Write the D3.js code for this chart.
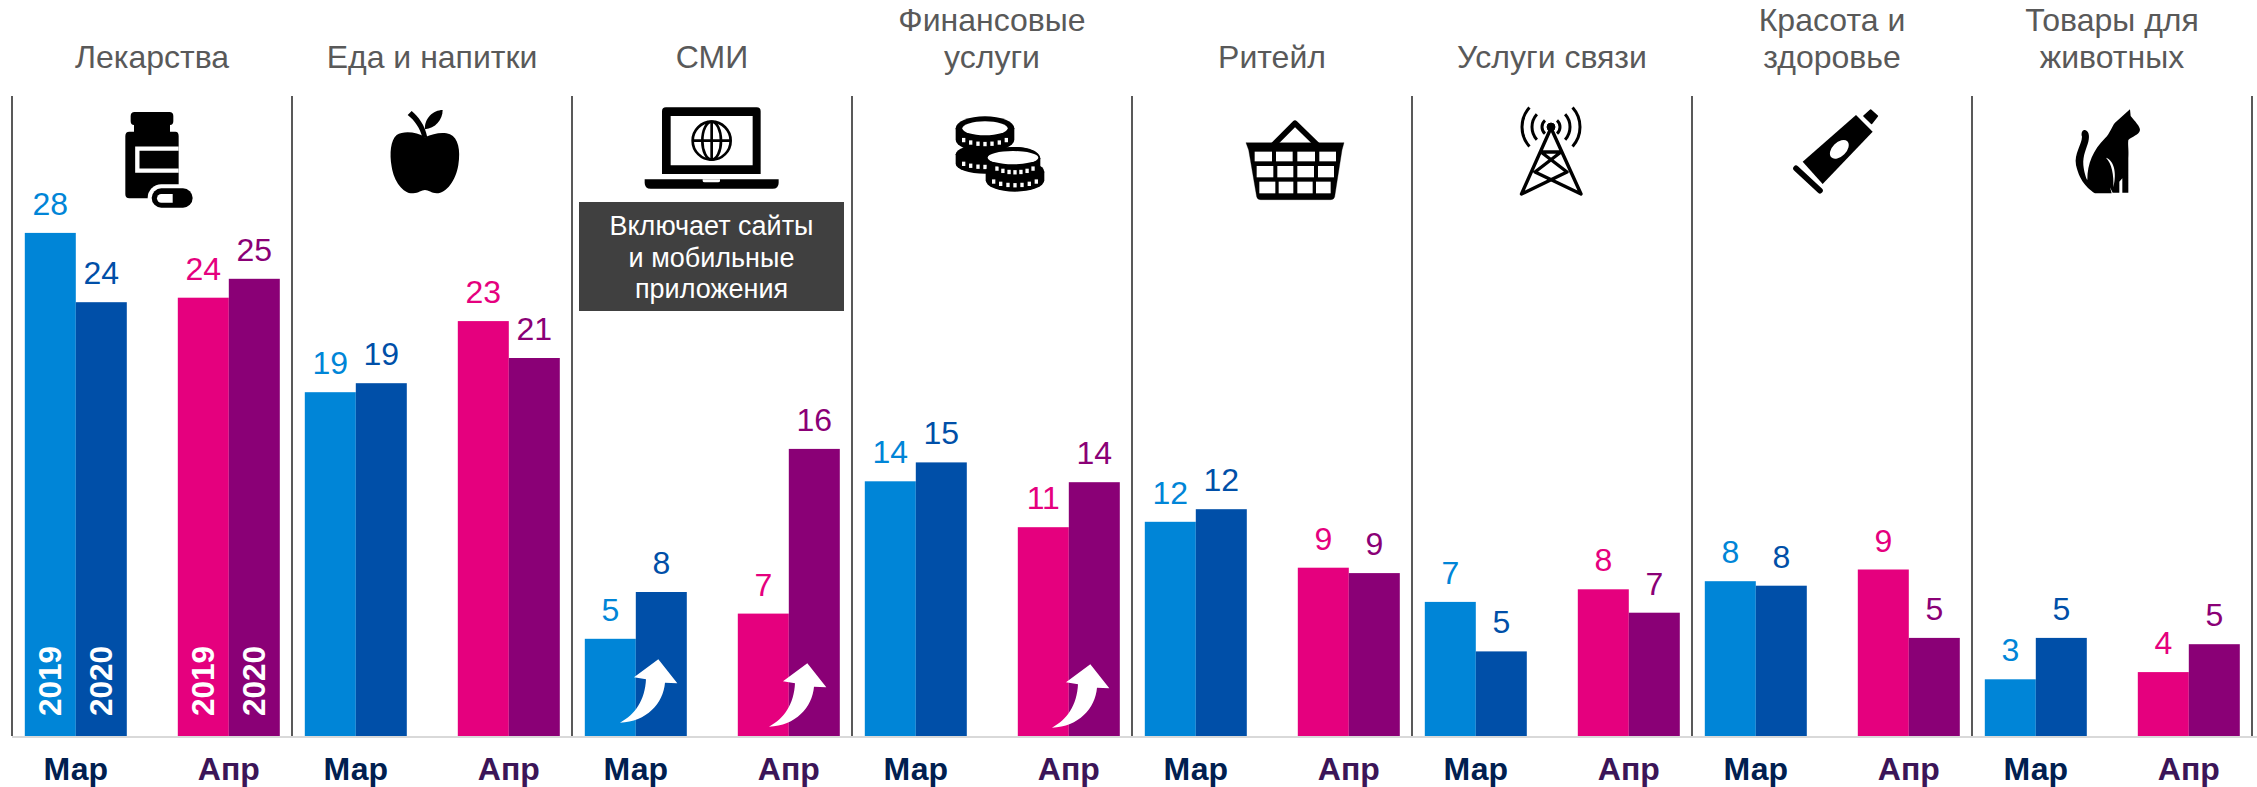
<!DOCTYPE html>
<html><head><meta charset="utf-8">
<script src="https://cdn.jsdelivr.net/npm/d3@7"></script>
<style>html,body{margin:0;padding:0;background:#fff}svg{display:block}text{font-family:"Liberation Sans",Arial,sans-serif}</style>
</head><body><svg id="c" width="2257" height="787"></svg>
<script>
// ---- data ----
const categories = ["Лекарства","Еда и напитки","СМИ","Финансовые услуги","Ритейл","Услуги связи","Красота и здоровье","Товары для животных"];
const titleLines = [["Лекарства"],["Еда и напитки"],["СМИ"],["Финансовые","услуги"],["Ритейл"],["Услуги связи"],["Красота и","здоровье"],["Товары для","животных"]];
const slots = ["Мар 2019","Мар 2020","gap","Апр 2019","Апр 2020"];
const months = ["Мар","Апр"];
const mar2019 = [27.95,19.1,5.4,14.15,11.9,7.45,8.6,3.15];
const mar2020 = [24.1,19.6,8.0,15.2,12.6,4.7,8.35,5.45];
const apr2019 = [24.35,23.05,6.8,11.6,9.35,8.15,9.25,3.55];
const apr2020 = [25.4,21.0,15.95,14.1,9.05,6.85,5.45,5.1];
const mar2019Labels = [28,19,5,14,12,7,8,3];
const mar2020Labels = [24,19,8,15,12,5,8,5];
const apr2019Labels = [24,23,7,11,9,8,9,4];
const apr2020Labels = [25,21,16,14,9,7,5,5];
const slotColors = {"Мар 2019":"#0085D7","Мар 2020":"#004FA8","Апр 2019":"#E5007E","Апр 2020":"#8A0076"};
const monthColors = {"Мар":"#002050","Апр":"#3B1558"};
const noteLines = ["Включает сайты","и мобильные","приложения"];

// ---- scales ----
const svg = d3.select("#c");
const baseY = 736;
const y = d3.scaleLinear().domain([0,28]).range([baseY,baseY-504]);
const panel = d3.scaleBand().domain(d3.range(categories.length)).range([12,2252]);
const slot = d3.scaleBand().domain(slots).range([12.8,267.8]);
const series = [
 {k:"Мар 2019",v:mar2019,l:mar2019Labels},{k:"Мар 2020",v:mar2020,l:mar2020Labels},
 {k:"Апр 2019",v:apr2019,l:apr2019Labels},{k:"Апр 2020",v:apr2020,l:apr2020Labels}];
const flat = series.flatMap(s=>s.v.map((v,i)=>({i,k:s.k,v,l:s.l[i],x:panel(i)+slot(s.k),c:slotColors[s.k]})));

// separators
svg.append("g").selectAll("line").data(d3.range(categories.length+1)).join("line")
 .attr("x1",i=>panel(0)+i*panel.bandwidth()).attr("x2",i=>panel(0)+i*panel.bandwidth())
 .attr("y1",96).attr("y2",baseY).attr("stroke","#595959").attr("stroke-width",2);

// bars
svg.append("g").selectAll("rect").data(flat).join("rect")
 .attr("x",d=>d.x).attr("width",slot.bandwidth()).attr("y",d=>y(d.v)).attr("height",d=>y(0)-y(d.v)).attr("fill",d=>d.c);
// baseline
svg.append("line").attr("x1",12).attr("x2",2257).attr("y1",baseY+1).attr("y2",baseY+1).attr("stroke","#D9D9D9").attr("stroke-width",2);
// value labels
svg.append("g").selectAll("text").data(flat).join("text")
 .attr("x",d=>d.x+slot.bandwidth()/2).attr("y",d=>y(d.v)-18).attr("text-anchor","middle")
 .attr("font-size",32).attr("fill",d=>d.c).text(d=>d.l);
// titles
titleLines.forEach((ls,i)=>{
 ls.forEach((t,j)=>svg.append("text").attr("x",panel(i)+panel.bandwidth()/2).attr("y",68-(ls.length-1-j)*37)
  .attr("text-anchor","middle").attr("font-size",32).attr("fill","#595959").text(t));
});
// months
d3.range(categories.length).forEach(i=>months.forEach((m,j)=>{
 const cx=panel(i)+slot(slots[j*3])+slot.bandwidth();
 svg.append("text").attr("x",cx).attr("y",780).attr("text-anchor","middle").attr("font-size",32)
  .attr("font-weight","bold").attr("fill",monthColors[m]).text(m);
}));
// rotated years in first panel
series.forEach(s=>{
 const cx=panel(0)+slot(s.k)+slot.bandwidth()/2;
 svg.append("text").attr("transform",`translate(${cx+10.5},716) rotate(-90)`).attr("font-size",31.5)
  .attr("font-weight","bold").attr("fill","#fff").text(s.k.split(" ")[1]);
});
// note box
const nb=svg.append("g");
nb.append("rect").attr("x",579).attr("y",202).attr("width",265).attr("height",109).attr("fill","#404040");
noteLines.forEach((t,j)=>nb.append("text").attr("x",711.5).attr("y",235+j*31.5).attr("text-anchor","middle")
 .attr("font-size",27).attr("fill","#fff").text(t));

// arrows
const arrowOffs=[[0,0],[149,4],[432,5]];
arrowOffs.forEach(o=>svg.append("path").attr("transform",`translate(${610+o[0]},${650+o[1]}) scale(.3333)`)
 .attr("fill","#fff").attr("d","M145 28L202 100L165 98C160 160 110 215 30 218C75 195 105 150 108 88L72 82Z"));

// ---- icons ----
const ic=(x,y)=>svg.append("g").attr("transform",`translate(${x},${y}) scale(.3333)`);
// bottle
let g=ic(100,100);
g.append("path").attr("d","M104 36H208Q220 36 220 48V64Q220 75 210 75V95H226Q236 95 236 108V295H88Q76 295 76 283V108Q76 95 88 95H102V75Q92 75 92 64V48Q92 36 104 36Z");
g.append("path").attr("d","M236 146H112V212H236").attr("fill","none").attr("stroke","#fff").attr("stroke-width",13);
g.append("rect").attr("x",143).attr("y",253).attr("width",147).attr("height",82).attr("rx",41).attr("fill","#fff");
g.append("rect").attr("x",155).attr("y",265).attr("width",123).attr("height",58).attr("rx",29);
g.append("path").attr("d","M218 282V308H184A13 13 0 0 1 184 282Z").attr("fill","#fff");
// apple
g=ic(370,100);
g.append("path").attr("d","M165 112C140 95 100 92 80 105C62 120 58 160 65 200C72 245 100 282 130 280C145 279 155 270 165 270C175 270 185 279 200 280C230 280 258 240 265 195C272 150 265 115 240 103C220 95 190 100 165 112Z");
g.append("path").attr("d","M113 45L125 33C145 50 165 75 172 112L157 112C150 85 135 62 113 45Z");
g.append("path").attr("d","M165 88C162 55 190 30 218 30C218 60 195 85 165 88Z");
// laptop
g=ic(630,100);
g.append("path").attr("fill-rule","evenodd").attr("d","M108 22H380Q392 22 392 34V222H96V34Q96 22 108 22ZM122 48V196H368V48Z");
g.append("path").attr("d","M44 238H446V248Q446 266 428 266H62Q44 266 44 248Z");
g.append("path").attr("d","M218 238H270V243Q270 247 264 247H224Q218 247 218 243Z").attr("fill","#fff");
const gl=g.append("g").attr("fill","none").attr("stroke","#000").attr("stroke-width",8);
gl.append("circle").attr("cx",245).attr("cy",122).attr("r",57);
gl.append("ellipse").attr("cx",245).attr("cy",122).attr("rx",28).attr("ry",57);
gl.append("path").attr("d","M188 122H302M245 65V179");
// coins
g=ic(945,105);
function coin(cx,cy,rx,ry,h,top){
 g.append("path").attr("d",`M${cx-rx} ${cy}V${cy+h}A${rx} ${ry} 0 0 0 ${cx+rx} ${cy+h}V${cy}Z`);
 g.append("ellipse").attr("cx",cx).attr("cy",cy).attr("rx",rx).attr("ry",ry);
 [-0.82,-0.55,-0.27,0,0.27,0.55,0.82].forEach(t=>{
  const px=cx+t*(rx-10), py=cy+h*0.55+Math.sqrt(1-t*t)*(ry-8);
  g.append("rect").attr("x",px-5).attr("y",py-6).attr("width",10).attr("height",13).attr("fill","#fff");
 });
 if(top) g.append("ellipse").attr("cx",cx).attr("cy",cy).attr("rx",rx-20).attr("ry",ry-15).attr("fill","#fff");
}
coin(120,148,88,30,28,false);
coin(120,70,88,36,34,true);
coin(210,200,88,34,26,false);
coin(210,160,76,34,28,false);
g.append("ellipse").attr("cx",205).attr("cy",158).attr("rx",78).attr("ry",32);
g.append("ellipse").attr("cx",204).attr("cy",158).attr("rx",76).attr("ry",20).attr("fill","#fff");
// basket
g=ic(1240,100);
g.append("path").attr("d","M100 135L165 70L232 135").attr("fill","none").attr("stroke","#000").attr("stroke-width",17).attr("stroke-linejoin","round");
g.append("path").attr("d","M18 128H312L306 150L284 290Q282 299 272 299H62Q52 299 50 290L26 150Z").attr("stroke","#000");
[[155,184,[[44,96],[108,158],[172,225],[238,288]]],[198,232,[[50,100],[112,160],[172,222],[234,282]]],[245,280,[[58,106],[116,160],[172,218],[228,272]]]]
 .forEach(r=>r[2].forEach(c=>g.append("rect").attr("x",c[0]).attr("y",r[0]).attr("width",c[1]-c[0]).attr("height",r[1]-r[0]).attr("fill","#fff")));
// antenna
g=svg.append("g").attr("fill","none").attr("stroke","#000");
g.append("path").attr("stroke-width",3.4).attr("stroke-linejoin","round").attr("d","M1551 128L1521.5 194L1567 172L1541 152L1561 152L1535 172L1581 194L1551 128");
g.append("circle").attr("cx",1551).attr("cy",127).attr("r",4).attr("fill","#000");
[9,19,29].forEach(r=>{
 const a=(r<12?48:42)*Math.PI/180;
 const ax=r*Math.cos(a), ay=r*Math.sin(a);
 g.append("path").attr("stroke-width",3).attr("d",`M${1551-ax} ${127-ay}A${r} ${r} 0 0 0 ${1551-ax} ${127+ay}M${1551+ax} ${127-ay}A${r} ${r} 0 0 1 ${1551+ax} ${127+ay}`);
});
// tube
g=ic(1780,100);
g.append("path").attr("fill-rule","evenodd").attr("d","M228 45L278 95L128 252L68 185Z");
g.append("ellipse").attr("transform","translate(178,148) rotate(-45)").attr("rx",34).attr("ry",21).attr("fill","#fff");
g.append("path").attr("d","M272 30L292 48L275 70L252 48Z").attr("stroke","#000").attr("stroke-width",5).attr("stroke-linejoin","round");
g.append("path").attr("d","M48 205L120 272").attr("stroke","#000").attr("stroke-width",17).attr("stroke-linecap","round");
// cat
g=ic(2060,100);
g.append("path").attr("d","M210 28L212 48C225 65 240 78 240 90C238 105 215 110 205 120C203 135 207 150 205 175L205 278L187 278L187 235L178 245L178 278L158 278L150 262L155 280L105 280C90 270 60 250 48 195C42 160 65 135 66 110C62 98 68 88 75 90C85 92 90 105 85 125C80 145 68 165 70 195C72 215 78 235 82 240C82 190 100 150 135 115C150 100 155 80 165 68Z");
g.append("path").attr("fill","#fff").attr("d","M138 173C160 180 172 215 160 262C162 225 155 190 138 173Z");
</script></body></html>
